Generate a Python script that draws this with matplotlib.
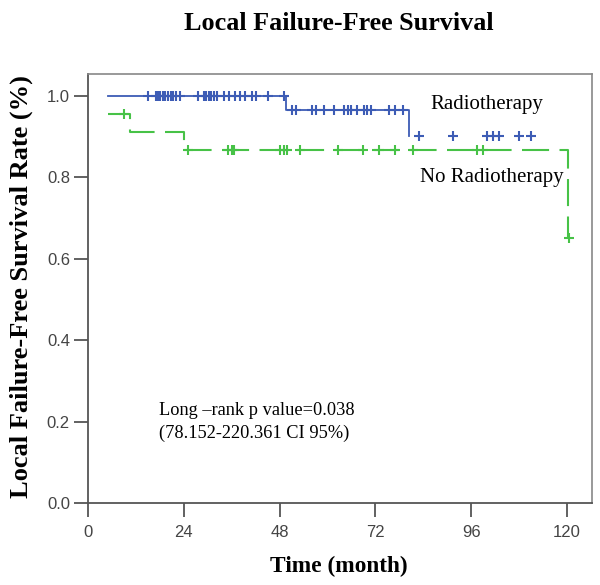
import numpy as np
import matplotlib
matplotlib.use("Agg")
import matplotlib.pyplot as plt

# Kaplan-Meier steps (time in months, survival)
rt_step_t = [5, 49.5, 80.5]
rt_step_s = [1.0, 0.966, 0.902]
rt_cens_t = [15, 17, 17.5, 18, 18.7, 19.3, 20, 20.7, 21.3, 22, 23,
             27.5, 29, 29.6, 30.2, 30.8, 31.5, 32.3, 34, 35.3, 36.7,
             38, 39.2, 41.2, 42.2, 45, 49]
rt_cens_s = [1.0] * 27
rt_cens2_t = [51, 52, 56, 57, 59.2, 61.5, 64, 65, 66, 67.3, 69.2, 70, 71,
              75.3, 77, 79]
rt_cens2_s = [0.966] * 16
rt_cens3_t = [83, 91.5, 100, 101.5, 103, 108, 111]
rt_cens3_s = [0.902] * 7

nort_step_t = [5, 10.5, 24, 120.2]
nort_step_s = [0.956, 0.912, 0.867, 0.651]
nort_cens_t = [9, 25, 35, 36, 36.6, 48, 49, 49.8, 53, 62.5, 69, 73, 77,
               81.5, 97.5, 99]
nort_cens_s = [0.956, 0.867, 0.867, 0.867, 0.867, 0.867, 0.867, 0.867, 0.867,
               0.867, 0.867, 0.867, 0.867, 0.867, 0.867, 0.867]
nort_last_t = [120.5]
nort_last_s = [0.651]

xticks = [0, 24, 48, 72, 96, 120]
yticks = [0.0, 0.2, 0.4, 0.6, 0.8, 1.0]

blue = '#3d5cb5'
green = '#47c247'
serif = 'Liberation Serif'

fig = plt.figure(figsize=(6.0, 5.85), dpi=100)
ax = fig.add_axes([0.1467, 0.140, 0.84, 0.7335])

# Radiotherapy: step line up to the last event, then only censor marks
xs = [rt_step_t[0]]
ys = [rt_step_s[0]]
for t, s in zip(rt_step_t[1:], rt_step_s[1:]):
    xs += [t, t]
    ys += [ys[-1], s]
ax.plot(xs, ys, color=blue, lw=1.3, zorder=3)
for ct, cs in [(rt_cens_t, rt_cens_s), (rt_cens2_t, rt_cens2_s),
               (rt_cens3_t, rt_cens3_s)]:
    ax.plot(ct, cs, ls='none', marker='+', ms=7, mew=1.5, color=blue, zorder=4)

# No radiotherapy: dashed steps
xs = [nort_step_t[0]]
ys = [nort_step_s[0]]
for t, s in zip(nort_step_t[1:], nort_step_s[1:]):
    xs += [t, t]
    ys += [ys[-1], s]
ax.plot(xs, ys, color=green, lw=1.5, dashes=(13, 5), zorder=3)
ax.plot(nort_cens_t, nort_cens_s, ls='none', marker='+', ms=7, mew=1.5,
        color=green, zorder=4)
ax.plot(nort_last_t, nort_last_s, ls='none', marker='+', ms=7, mew=1.5,
        color=green, zorder=4)

ax.set_xlim(0, 126.25)
ax.set_ylim(0, 1.054)
ax.set_xticks(xticks)
ax.set_yticks(yticks)
ax.set_yticklabels([f'{v:.1f}' for v in yticks])
ax.tick_params(axis='both', direction='out', length=10, width=1.3,
               color='#555555', labelcolor='#444444', labelsize=12)
for lab in ax.get_xticklabels() + ax.get_yticklabels():
    lab.set_family(['Liberation Sans Narrow', 'Liberation Sans'])
ax.tick_params(axis='x', pad=6)
ax.tick_params(axis='y', pad=3)

for side in ['left', 'bottom']:
    ax.spines[side].set_color('#555555')
    ax.spines[side].set_linewidth(1.3)
for side in ['top', 'right']:
    ax.spines[side].set_color('#888888')
    ax.spines[side].set_linewidth(1.2)

ax.text(85.7, 0.978, 'Radiotherapy', family=serif, fontsize=15,
        va='center', ha='left')
ax.text(83.2, 0.80, 'No Radiotherapy', family=serif, fontsize=15,
        va='center', ha='left')
ax.text(17.75, 0.228, 'Long \u2013rank p value=0.038', family=serif,
        fontsize=13.2, va='center', ha='left')
ax.text(17.75, 0.172, '(78.152-220.361 CI 95%)', family=serif,
        fontsize=13.2, va='center', ha='left')

fig.text(0.564, 0.960, 'Local Failure-Free Survival', family=serif,
         fontsize=18.8, fontweight='bold', ha='center', va='center')
fig.text(0.036, 0.511, 'Local Failure-Free Survival Rate (%)', family=serif,
         fontsize=19, fontweight='bold', ha='center', va='center',
         rotation=90)
fig.text(0.565, 0.032, 'Time (month)', family=serif, fontsize=16.8,
         fontweight='bold', ha='center', va='center')

fig.savefig('out.png', dpi=100)
